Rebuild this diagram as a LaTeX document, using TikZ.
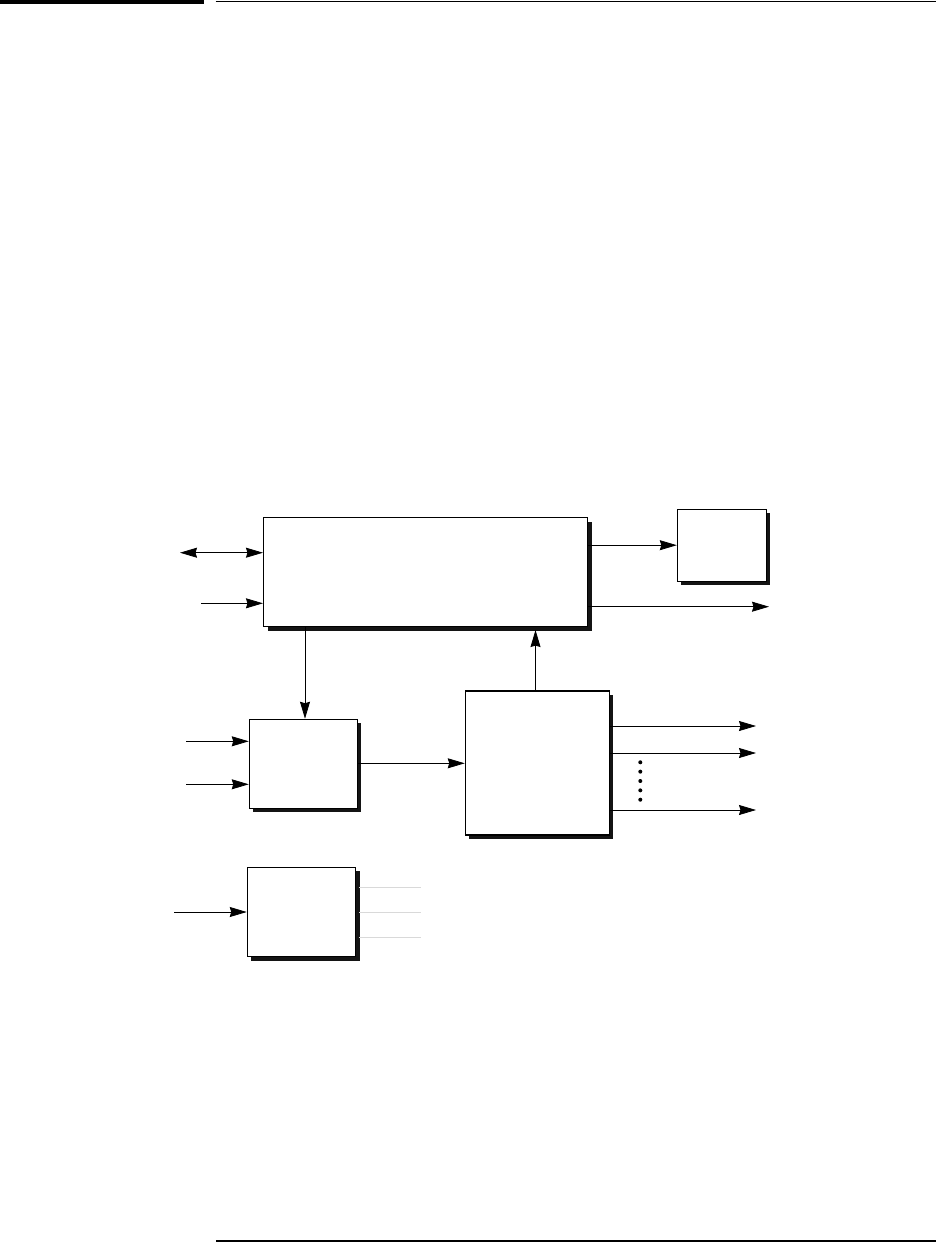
\documentclass[tikz,border=0pt]{standalone}
\usepackage{tikz}
\usetikzlibrary{arrows.meta, positioning, calc, shadows}

\tikzset{
  blk/.style={draw, fill=white, line width=1.1pt, inner sep=0pt,
    general shadow={fill=black!92, shadow xshift=4pt, shadow yshift=-4pt}},
  sig/.style={line width=0.8pt, -{Stealth[length=17pt,width=10pt,inset=1.5pt]}},
  sigboth/.style={line width=0.8pt, {Stealth[length=17pt,width=10pt,inset=1.5pt]}-{Stealth[length=17pt,width=10pt,inset=1.5pt]}},
  faint/.style={draw=black!15, line width=0.7pt}
}

\begin{document}
\begin{tikzpicture}[x=1pt, y=-1pt]
        \useasboundingbox (0,0) rectangle (937,1242);
        % Page rules
        \fill[black] (0,0) rectangle (203.5,3.6);
        \draw[line width=1pt] (215.7,1.7) -- (936,1.7);
        \draw[line width=2pt] (216,1240.5) -- (936,1240.5);
        % Blocks
        \node[blk, minimum width=324pt, minimum height=109pt] (main) at (425.5,572) {};
        \node[blk, minimum width=88.7pt, minimum height=71.7pt] (rbox) at (721.7,545.2) {};
        \node[blk, minimum width=108pt, minimum height=89pt] (mbox) at (303.3,763.8) {};
        \node[blk, minimum width=144pt, minimum height=144pt] (cbox) at (537.3,763) {};
        \node[blk, minimum width=108.4pt, minimum height=89.4pt] (lbox) at (301.5,912) {};
        % Free ends
        \coordinate (bus) at (180,552.7);
        \coordinate (inA) at (201,603.3);
        \coordinate (outA) at (769,606.7);
        \coordinate (inB) at (186,741.3);
        \coordinate (inC) at (186,784.3);
        \coordinate (inD) at (174,912);
        % Main block connections
        \draw[sigboth] (bus) -- (bus -| main.west);
        \draw[sig] (inA) -- (inA -| main.west);
        \draw[sig] (main.east |- rbox) -- (rbox.west);
        \draw[sig] (outA -| main.east) -- (outA);
        \draw[sig] (main.south -| 305,0) -- (mbox.north -| 305,0);
        \draw[sig] (cbox.north -| 535.5,0) -- ($(main.south -| 535.5,0)+(0,3)$);
        % Middle block
        \draw[sig] (inB) -- (inB -| mbox.west);
        \draw[sig] (inC) -- (inC -| mbox.west);
        \draw[sig] (mbox.east |- 0,763.3) -- (cbox.west |- 0,763.3);
        % Outputs of the right block
        \foreach \yy in {726,753,810}
          \draw[sig] (cbox.east |- 0,\yy) -- (756,\yy);
        \foreach \k in {0,...,4}
          \fill (640.3,762.3+9.35*\k) circle (2pt);
        % Lower block
        \draw[sig] (inD) -- (inD -| lbox.west);
        \foreach \yy in {887.3,912.3,937.3}
          \draw[faint] (359,\yy) -- (420.7,\yy);
      \end{tikzpicture}
\end{document}
